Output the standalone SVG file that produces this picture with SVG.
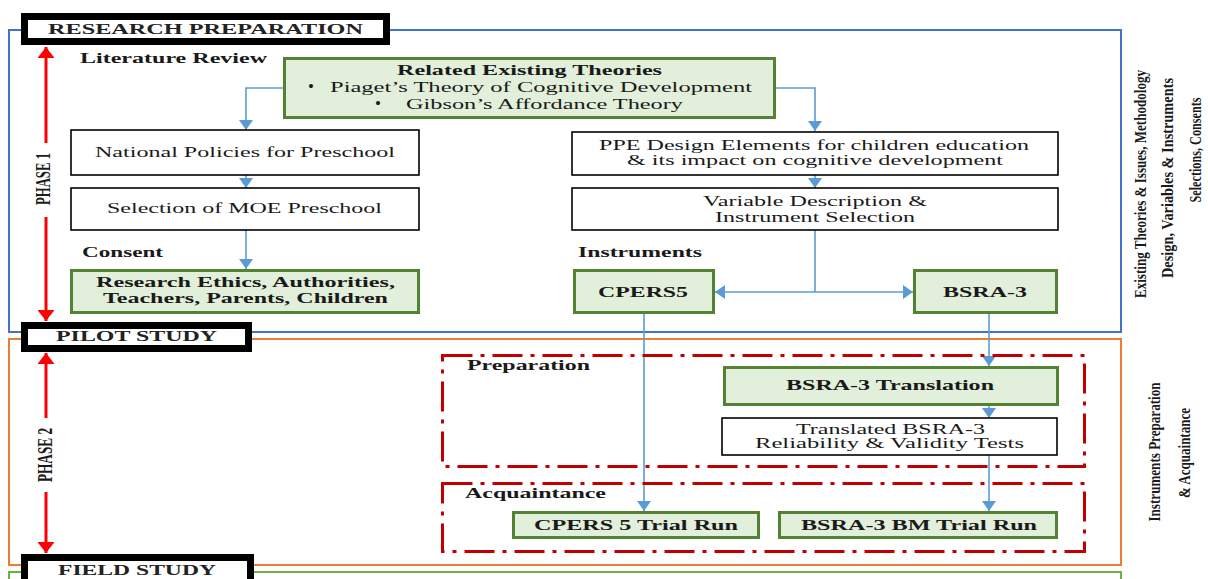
<svg xmlns="http://www.w3.org/2000/svg" width="1208" height="579" viewBox="0 0 1208 579">
  <defs>
    <style>
      text { font-family: "Liberation Serif", "Times New Roman", serif; fill: #1a1a1a; }
      .t { font-size: 15px; }
      .b { font-size: 14px; font-weight: bold; }
      .hd { font-size: 14px; font-weight: bold; fill: #222; }
      .rot { font-size: 16px; font-weight: bold; }
      .ph { font-size: 20px; font-weight: bold; }
      .frame { fill: none; stroke-width: 2; }
      .title { fill: #fff; stroke: #000; stroke-width: 7; }
      .plain { fill: #fff; stroke: #000; stroke-width: 1.6; }
      .green { fill: #e2efda; stroke: #548235; stroke-width: 3; }
      .dashbox { fill: none; stroke: #c00000; stroke-width: 3; stroke-dasharray: 30 8 4 8; }
      .conn { fill: none; stroke: #5b9bd5; stroke-width: 1.6; }
      .red { fill: none; stroke: #ff0000; stroke-width: 3; }
    </style>
    <marker id="ah" viewBox="0 0 10 14" refX="10" refY="7" markerWidth="10" markerHeight="14" markerUnits="userSpaceOnUse" orient="auto">
      <path d="M0,0 L10,7 L0,14 z" fill="#5b9bd5"/>
    </marker>
    <marker id="ahRed" viewBox="0 0 11 17" refX="11" refY="8.5" markerWidth="11" markerHeight="17" markerUnits="userSpaceOnUse" orient="auto-start-reverse">
      <path d="M0,0 L11,8.5 L0,17 z" fill="#ff0000"/>
    </marker>
  </defs>

  <!-- phase frames -->
  <g id="frames">
    <rect class="frame" x="9" y="30" width="1112" height="302" stroke="#4472c4"/>
    <rect class="frame" x="9" y="339" width="1112" height="226" stroke="#ed7d31"/>
    <rect class="frame" x="9" y="572" width="1112" height="20" stroke="#70ad47"/>
  </g>

  <!-- phase arrows and labels -->
  <g id="phase1">
    <path class="red" d="M46,143 V47" marker-end="url(#ahRed)"/>
    <path class="red" d="M46,217 V321" marker-end="url(#ahRed)"/>
    <text class="ph" transform="translate(50,179) rotate(-90)" text-anchor="middle" textLength="52" lengthAdjust="spacingAndGlyphs">PHASE 1</text>
  </g>
  <g id="phase2">
    <path class="red" d="M46,418 V353" marker-end="url(#ahRed)"/>
    <path class="red" d="M46,492 V553" marker-end="url(#ahRed)"/>
    <text class="ph" transform="translate(52,455) rotate(-90)" text-anchor="middle" textLength="54" lengthAdjust="spacingAndGlyphs">PHASE 2</text>
  </g>

  <!-- side notes -->
  <g id="note1">
    <text class="rot" transform="translate(1146,184) rotate(-90)" text-anchor="middle" textLength="228" lengthAdjust="spacingAndGlyphs">Existing Theories &amp; Issues, Methodology</text>
    <text class="rot" transform="translate(1173,178) rotate(-90)" text-anchor="middle" textLength="200" lengthAdjust="spacingAndGlyphs">Design, Variables &amp; Instruments</text>
    <text class="rot" transform="translate(1201,150) rotate(-90)" text-anchor="middle" textLength="105" lengthAdjust="spacingAndGlyphs">Selections, Consents</text>
  </g>
  <g id="note2">
    <text class="rot" transform="translate(1160,452) rotate(-90)" text-anchor="middle" textLength="139" lengthAdjust="spacingAndGlyphs">Instruments Preparation</text>
    <text class="rot" transform="translate(1190,453) rotate(-90)" text-anchor="middle" textLength="90" lengthAdjust="spacingAndGlyphs">&amp; Acquaintance</text>
  </g>

  <!-- connectors -->
  <g id="connectors">
    <path class="conn" d="M283,88 H246 V130" marker-end="url(#ah)"/>
    <path class="conn" d="M776,88 H815 V131" marker-end="url(#ah)"/>
    <path class="conn" d="M246,175 V188" marker-end="url(#ah)"/>
    <path class="conn" d="M815,175 V188" marker-end="url(#ah)"/>
    <path class="conn" d="M246,230 V269" marker-end="url(#ah)"/>
    <path class="conn" d="M815,230 V292"/>
    <path class="conn" d="M815,292 H715" marker-end="url(#ah)"/>
    <path class="conn" d="M815,292 H913" marker-end="url(#ah)"/>
    <path class="conn" d="M644,313 V511" marker-end="url(#ah)"/>
    <path class="conn" d="M989,313 V366" marker-end="url(#ah)"/>
    <path class="conn" d="M989,405 V418" marker-end="url(#ah)"/>
    <path class="conn" d="M989,455 V511" marker-end="url(#ah)"/>
  </g>

  <!-- stage titles -->
  <g id="title-research">
    <rect class="title" x="24.5" y="16.5" width="362" height="25"/>
    <text class="hd" x="48" y="34" textLength="315" lengthAdjust="spacingAndGlyphs">RESEARCH PREPARATION</text>
  </g>
  <g id="title-pilot">
    <rect class="title" x="24.5" y="325.5" width="224" height="23"/>
    <text class="hd" x="56" y="341" textLength="161" lengthAdjust="spacingAndGlyphs">PILOT STUDY</text>
  </g>
  <g id="title-field">
    <rect class="title" x="24.5" y="557.5" width="226" height="30"/>
    <text class="hd" x="58" y="575" textLength="158" lengthAdjust="spacingAndGlyphs">FIELD STUDY</text>
  </g>

  <!-- group labels -->
  <g id="labels">
    <text class="b" x="80" y="63" textLength="187" lengthAdjust="spacingAndGlyphs">Literature Review</text>
    <text class="b" x="82" y="257" textLength="81" lengthAdjust="spacingAndGlyphs">Consent</text>
    <text class="b" x="578" y="257" textLength="124" lengthAdjust="spacingAndGlyphs">Instruments</text>
    <text class="b" x="467" y="370" textLength="123" lengthAdjust="spacingAndGlyphs">Preparation</text>
    <text class="b" x="465" y="498" textLength="141" lengthAdjust="spacingAndGlyphs">Acquaintance</text>
  </g>

  <!-- phase 1 nodes -->
  <g id="theories">
    <rect class="green" x="284.5" y="58.5" width="490" height="59"/>
    <text class="b" x="397" y="75" textLength="265" lengthAdjust="spacingAndGlyphs">Related Existing Theories</text>
    <text class="t" x="308" y="92" style="font-size:17px">•</text>
    <text class="t" x="330" y="92" textLength="422" lengthAdjust="spacingAndGlyphs">Piaget’s Theory of Cognitive Development</text>
    <text class="t" x="375" y="109" style="font-size:17px">•</text>
    <text class="t" x="406" y="109" textLength="277" lengthAdjust="spacingAndGlyphs">Gibson’s Affordance Theory</text>
  </g>
  <g id="policies">
    <rect class="plain" x="71" y="130" width="348" height="45"/>
    <text class="t" x="95" y="157" textLength="300" lengthAdjust="spacingAndGlyphs">National Policies for Preschool</text>
  </g>
  <g id="selection">
    <rect class="plain" x="71" y="188" width="348" height="42"/>
    <text class="t" x="107" y="213" textLength="275" lengthAdjust="spacingAndGlyphs">Selection of MOE Preschool</text>
  </g>
  <g id="consent">
    <rect class="green" x="71.5" y="270.5" width="347" height="42"/>
    <text class="b" x="96" y="287" textLength="299" lengthAdjust="spacingAndGlyphs">Research Ethics, Authorities,</text>
    <text class="b" x="103" y="303" textLength="285" lengthAdjust="spacingAndGlyphs">Teachers, Parents, Children</text>
  </g>
  <g id="ppe">
    <rect class="plain" x="572" y="132" width="486" height="43"/>
    <text class="t" x="599" y="150" textLength="430" lengthAdjust="spacingAndGlyphs">PPE Design Elements for children education</text>
    <text class="t" x="627" y="165" textLength="376" lengthAdjust="spacingAndGlyphs">&amp; its impact on cognitive development</text>
  </g>
  <g id="variables">
    <rect class="plain" x="572" y="188" width="486" height="42"/>
    <text class="t" x="703" y="206" textLength="224" lengthAdjust="spacingAndGlyphs">Variable Description &amp;</text>
    <text class="t" x="715" y="222" textLength="200" lengthAdjust="spacingAndGlyphs">Instrument Selection</text>
  </g>
  <g id="cpers5">
    <rect class="green" x="574.5" y="270.5" width="139" height="42"/>
    <text class="b" x="598" y="297" textLength="90" lengthAdjust="spacingAndGlyphs">CPERS5</text>
  </g>
  <g id="bsra3">
    <rect class="green" x="914.5" y="270.5" width="142" height="42"/>
    <text class="b" x="943" y="297" textLength="84" lengthAdjust="spacingAndGlyphs">BSRA-3</text>
  </g>

  <!-- phase 2 nodes -->
  <g id="preparation">
    <rect class="dashbox" x="442.5" y="355.5" width="642" height="111"/>
  </g>
  <g id="translation">
    <rect class="green" x="724.5" y="367.5" width="333" height="37"/>
    <text class="b" x="786" y="390" textLength="208" lengthAdjust="spacingAndGlyphs">BSRA-3 Translation</text>
  </g>
  <g id="tests">
    <rect class="plain" x="722" y="418" width="335" height="37"/>
    <text class="t" x="796" y="434" textLength="189" lengthAdjust="spacingAndGlyphs">Translated BSRA-3</text>
    <text class="t" x="755" y="448" textLength="269" lengthAdjust="spacingAndGlyphs">Reliability &amp; Validity Tests</text>
  </g>
  <g id="acquaintance">
    <rect class="dashbox" x="442.5" y="483.5" width="642" height="68"/>
  </g>
  <g id="cpers-trial">
    <rect class="green" x="513.5" y="512.5" width="245" height="25"/>
    <text class="b" x="534" y="530" textLength="204" lengthAdjust="spacingAndGlyphs">CPERS 5 Trial Run</text>
  </g>
  <g id="bsra-trial">
    <rect class="green" x="779.5" y="512.5" width="277" height="25"/>
    <text class="b" x="801" y="530" textLength="236" lengthAdjust="spacingAndGlyphs">BSRA-3 BM Trial Run</text>
  </g>
</svg>
